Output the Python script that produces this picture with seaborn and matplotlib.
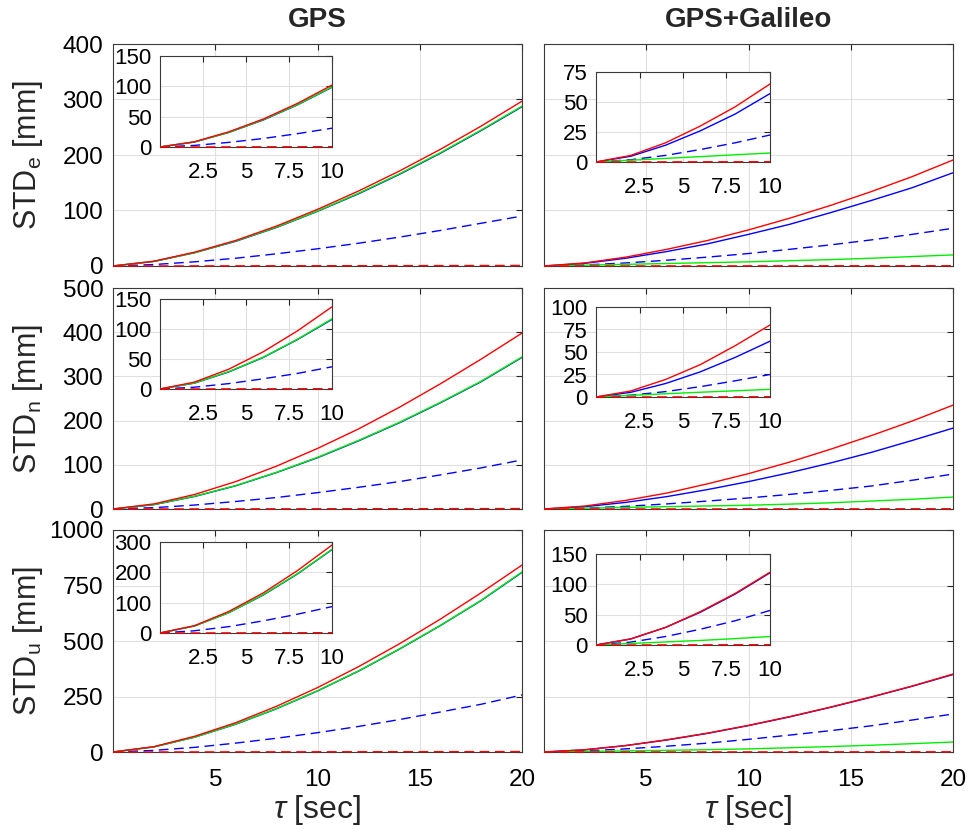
import matplotlib
matplotlib.use('Agg')
import pandas as pd
import matplotlib.pyplot as plt
import seaborn as sns

# ---- data (mm), sampled every 2 s ----
tau = [0, 2, 4, 6, 8, 10, 12, 14, 16, 18, 20]

# GPS, east
gps_e_blue = [0, 8.2, 24, 44.5, 69.5, 98.5, 130, 165, 203, 244, 287]
gps_e_green = [0, 8.3, 24, 45, 70, 99, 131, 166, 204, 245, 288]
gps_e_red = [0, 8.6, 25, 46, 72, 102, 135, 171, 210, 252, 297]
gps_e_blue_dash = [0, 2.6, 7.6, 14, 22, 31, 41, 52, 64, 77, 90]
gps_e_red_dash = [0, 0.1, 0.2, 0.3, 0.4, 0.5, 0.6, 0.7, 0.8, 0.9, 1.0]

# GPS+Galileo, east
gal_e_blue = [0, 4.8, 14, 26, 40, 57, 75, 96, 118, 141, 168]
gal_e_green = [0, 1.5, 3, 4.5, 6, 7.5, 9.5, 11.5, 14, 17, 20]
gal_e_red = [0, 5.5, 16, 30, 46, 65, 86, 109, 134, 161, 191]
gal_e_blue_dash = [0, 1.9, 5.5, 10.4, 16, 22.5, 30, 38, 47, 57, 68]
gal_e_red_dash = [0, 0.1, 0.1, 0.2, 0.2, 0.3, 0.3, 0.4, 0.4, 0.5, 0.5]

# GPS, north
gps_n_blue = [0, 9.8, 28.5, 52.5, 82.5, 116, 154, 195, 240, 288, 343]
gps_n_green = [0, 10, 29, 53, 83, 117, 155, 196, 241, 289, 344]
gps_n_red = [0, 11.5, 33, 62, 97, 137, 181, 230, 283, 339, 398]
gps_n_blue_dash = [0, 3, 9, 17, 26, 37, 49, 62, 77, 93, 111]
gps_n_red_dash = [0, 0.1, 0.2, 0.3, 0.4, 0.5, 0.6, 0.7, 0.8, 0.9, 1.0]

# GPS+Galileo, north
gal_n_blue = [0, 5.2, 15, 28, 44, 62, 82, 104, 128, 155, 183]
gal_n_green = [0, 1.8, 3.6, 5.3, 6.9, 8.5, 11, 14, 18, 22, 27]
gal_n_red = [0, 6.7, 19.5, 36, 57, 80, 106, 135, 166, 199, 235]
gal_n_blue_dash = [0, 2, 6, 11.5, 18, 25, 33, 42, 52, 65, 79]
gal_n_red_dash = [0, 0.1, 0.1, 0.2, 0.2, 0.3, 0.3, 0.4, 0.4, 0.5, 0.5]

# GPS, up
gps_u_blue = [0, 23, 67, 125, 195, 275, 364, 463, 569, 682, 809]
gps_u_green = [0, 23, 67, 126, 196, 276, 365, 464, 570, 683, 811]
gps_u_red = [0, 24, 71, 132, 206, 290, 384, 487, 598, 717, 842]
gps_u_blue_dash = [0, 7.3, 21, 40, 62, 87, 115, 146, 180, 215, 257]
gps_u_red_dash = [0, 0.2, 0.4, 0.6, 0.8, 1.0, 1.2, 1.4, 1.6, 1.8, 2.0]

# GPS+Galileo, up
gal_u_blue = [0, 10, 29, 54, 84, 119, 158, 201, 247, 296, 349]
gal_u_green = [0, 2.5, 5, 7.5, 10.5, 14, 19, 24.5, 30.5, 37.5, 45]
gal_u_red = [0, 10, 29, 55, 85, 120, 159, 202, 248, 297, 351]
gal_u_blue_dash = [0, 4.8, 14, 26, 40, 57, 76, 96, 118, 144, 171]
gal_u_red_dash = [0, 0.1, 0.2, 0.3, 0.4, 0.5, 0.6, 0.7, 0.8, 0.9, 1.0]

main_ylims = [400, 500, 1000]
main_yticks = [[0, 100, 200, 300, 400], [0, 100, 200, 300, 400, 500],
               [0, 250, 500, 750, 1000]]
inset_ylims = [[150, 75], [150, 100], [300, 150]]
inset_yticks = [[[0, 50, 100, 150], [0, 25, 50, 75]],
                [[0, 50, 100, 150], [0, 25, 50, 75, 100]],
                [[0, 100, 200, 300], [0, 50, 100, 150]]]
row_labels = [r'STD$_\mathrm{e}$ [mm]', r'STD$_\mathrm{n}$ [mm]', r'STD$_\mathrm{u}$ [mm]']
col_titles = ['GPS', 'GPS+Galileo']

panels = [
    [[gps_e_blue, gps_e_blue_dash, gps_e_green, gps_e_red, gps_e_red_dash],
     [gal_e_blue, gal_e_blue_dash, gal_e_green, gal_e_red, gal_e_red_dash]],
    [[gps_n_blue, gps_n_blue_dash, gps_n_green, gps_n_red, gps_n_red_dash],
     [gal_n_blue, gal_n_blue_dash, gal_n_green, gal_n_red, gal_n_red_dash]],
    [[gps_u_blue, gps_u_blue_dash, gps_u_green, gps_u_red, gps_u_red_dash],
     [gal_u_blue, gal_u_blue_dash, gal_u_green, gal_u_red, gal_u_red_dash]],
]
# colour / dashed, same order as in panels
line_styles = [('#0000ff', False), ('#0000ff', True), ('#00ee00', False),
               ('#ff0000', False), ('#ff0000', True)]

sns.set_theme(style='whitegrid')
plt.rcParams['font.family'] = ['Liberation Sans', 'DejaVu Sans']
plt.rcParams['mathtext.fontset'] = 'custom'
plt.rcParams['mathtext.rm'] = 'Liberation Sans'
plt.rcParams['mathtext.it'] = 'Liberation Sans:italic'

W, H = 969, 830
fig = plt.figure(figsize=(W / 100, H / 100), dpi=100)


def px_axes(x0, y0, x1, y1):
    return fig.add_axes([x0 / W, 1 - y1 / H, (x1 - x0) / W, (y1 - y0) / H])


def style_axes(ax, size, xpad, ypad):
    ax.set_facecolor('white')
    ax.grid(True, color='#e0e0e0', lw=0.8)
    for s in ax.spines.values():
        s.set_color('#3a3a3a')
        s.set_linewidth(0.8)
    ax.tick_params(direction='in', length=4, width=0.8, color='#262626',
                   top=True, right=True, labelsize=size, labelcolor='black')
    ax.tick_params(axis='x', pad=xpad)
    ax.tick_params(axis='y', pad=ypad)
    ax.set_xlabel('')
    ax.set_ylabel('')


def draw_lines(ax, series, tmax):
    for vals, (color, dashed) in zip(series, line_styles):
        df = pd.DataFrame({'tau': tau, 'std': vals})
        df = df[df['tau'] <= tmax]
        kw = dict(dashes=(7, 4)) if dashed else {}
        # the near-zero red dashed line sits on the axis, keep it unclipped
        sns.lineplot(data=df, x='tau', y='std', ax=ax, color=color, lw=1.0,
                     zorder=3, clip_on=not (dashed and color == '#ff0000'), **kw)


main_x = [(113, 522), (544, 953)]
main_y = [(44, 266), (288, 509), (530, 752)]
inset_x = [(160, 332), (596, 770)]
inset_y = [[(56, 147), (72, 162)], [(299, 389), (307, 397)], [(542, 633), (554, 645)]]

for r in range(3):
    for c in range(2):
        ax = px_axes(main_x[c][0], main_y[r][0], main_x[c][1], main_y[r][1])
        draw_lines(ax, panels[r][c], 20)
        ax.set_xlim(0, 20)
        ax.set_ylim(0, main_ylims[r])
        ax.set_xticks([5, 10, 15, 20])
        ax.set_yticks(main_yticks[r])
        style_axes(ax, 17.5, 12, 7)
        if r < 2:
            ax.set_xticklabels([])
        if c == 1:
            ax.set_yticklabels([])

        ins = px_axes(inset_x[c][0], inset_y[r][c][0], inset_x[c][1], inset_y[r][c][1])
        draw_lines(ins, panels[r][c], 10)
        ins.set_xlim(0, 10)
        ins.set_ylim(0, inset_ylims[r][c])
        ins.set_xticks([2.5, 5, 7.5, 10])
        ins.set_xticklabels(['2.5', '5', '7.5', '10'])
        ins.set_yticks(inset_yticks[r][c])
        style_axes(ins, 16, 11, 6)

    yc = (main_y[r][0] + main_y[r][1]) / 2
    fig.text(28 / W, 1 - yc / H, row_labels[r], rotation=90, ha='center', va='center',
             fontsize=22)

for c in range(2):
    xc = (main_x[c][0] + main_x[c][1]) / 2
    fig.text(xc / W, 1 - 20 / H, col_titles[c], ha='center', va='center',
             fontsize=20, fontweight='bold')
    fig.text(xc / W, 1 - 810 / H, r'$\tau$ [sec]', ha='center', va='center', fontsize=23)

fig.savefig('out.png', dpi=100, facecolor='white')
